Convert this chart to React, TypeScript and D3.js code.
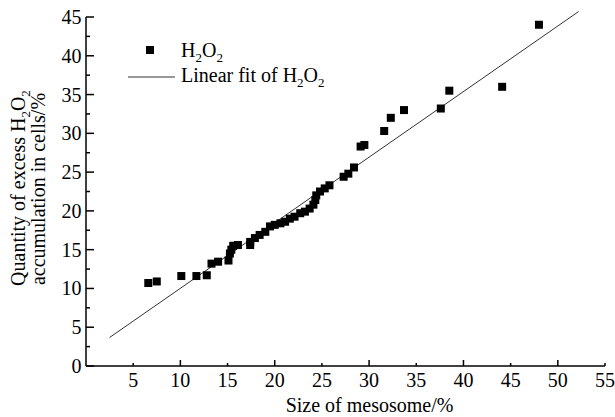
import React from "react";
import * as d3 from "d3";

const sizeValues = [6.6, 7.5, 10.1, 11.7, 12.8, 13.3, 14.0, 15.1, 15.25, 15.4, 15.6, 16.1, 17.4, 17.4, 17.9, 18.4, 19.0, 19.5, 20.0, 20.6, 21.1, 21.6, 22.1, 22.7, 23.2, 23.7, 24.1, 24.3, 24.4, 24.8, 25.3, 25.8, 27.3, 27.8, 28.4, 29.1, 29.5, 31.6, 32.3, 33.7, 37.6, 38.5, 44.1, 48.0];
const h2o2Values = [10.7, 10.9, 11.6, 11.6, 11.7, 13.2, 13.45, 13.6, 14.5, 15.0, 15.5, 15.6, 15.6, 16.0, 16.5, 16.9, 17.3, 18.0, 18.2, 18.4, 18.6, 19.0, 19.25, 19.7, 19.9, 20.3, 20.8, 21.4, 22.0, 22.5, 22.9, 23.3, 24.4, 24.8, 25.6, 28.3, 28.5, 30.3, 32.0, 33.0, 33.2, 35.5, 36.0, 44.0];

const fitSlope = 0.8456;
const fitIntercept = 1.56;
const fitRange = [2.5, 52.2];

const xTickLabels = [5, 10, 15, 20, 25, 30, 35, 40, 45, 50, 55];
const yTickLabels = [0, 5, 10, 15, 20, 25, 30, 35, 40, 45];

const FONT = "'Liberation Serif', 'Times New Roman', serif";

export default function App() {
  const x = d3.scaleLinear().domain([0, 55]).range([86, 605]);
  const y = d3.scaleLinear().domain([0, 45]).range([366, 17]);
  const line = d3
    .line<number>()
    .x((d) => x(d))
    .y((d) => y(fitSlope * d + fitIntercept));
  const xMinor = d3.range(5, 56, 10);
  const xMajor = d3.range(10, 51, 10);
  const yMinor = d3.range(2.5, 45, 5);
  const ms = 8;

  const sub = (t: string) => (
    <tspan fontSize={13} dy={5}>{t}</tspan>
  );
  const h2o2 = (
    <>
      <tspan>H</tspan>
      {sub("2")}
      <tspan dy={-5}>O</tspan>
      {sub("2")}
    </>
  );

  return (
    <svg
      width={615}
      height={417}
      style={{ position: "absolute", left: 0, top: 0, background: "#fff" }}
      fontFamily={FONT}
    >
      <rect width={615} height={417} fill="#fff" />
      {/* fit line */}
      <path d={line(fitRange) || ""} fill="none" stroke="#333" strokeWidth={1} />
      {/* points */}
      {sizeValues.map((v, i) => (
        <rect
          key={i}
          x={x(v) - ms / 2}
          y={y(h2o2Values[i]) - ms / 2}
          width={ms}
          height={ms}
          fill="#000"
        />
      ))}
      {/* axes */}
      <line x1={x(0)} x2={x(55)} y1={y(0)} y2={y(0)} stroke="#000" strokeWidth={1.5} />
      <line x1={x(0)} x2={x(0)} y1={y(0)} y2={y(45)} stroke="#000" strokeWidth={1.5} />
      {xMajor.map((t) => (
        <line key={"xm" + t} x1={x(t)} x2={x(t)} y1={y(0)} y2={y(0) - 6} stroke="#000" strokeWidth={1.5} />
      ))}
      {xMinor.map((t) => (
        <line key={"xn" + t} x1={x(t)} x2={x(t)} y1={y(0)} y2={y(0) - 3} stroke="#000" strokeWidth={1.5} />
      ))}
      {yTickLabels.map((t) => (
        <line key={"ym" + t} x1={x(0)} x2={x(0) + 8} y1={y(t)} y2={y(t)} stroke="#000" strokeWidth={1.5} />
      ))}
      {yMinor.map((t) => (
        <line key={"yn" + t} x1={x(0)} x2={x(0) + 4} y1={y(t)} y2={y(t)} stroke="#000" strokeWidth={1.5} />
      ))}
      {xTickLabels.map((t) => (
        <text key={"xl" + t} x={x(t)} y={387} textAnchor="middle" fontSize={20}>
          {t}
        </text>
      ))}
      {yTickLabels.map((t) => (
        <text key={"yl" + t} x={81.5} y={y(t) + 7} textAnchor="end" fontSize={20}>
          {t}
        </text>
      ))}
      {/* axis titles */}
      <text x={369.5} y={412} textAnchor="middle" fontSize={20}>
        Size of mesosome/%
      </text>
      <text transform="translate(25,188) rotate(-90)" textAnchor="middle" fontSize={20}>
        Quantity of excess {h2o2}
      </text>
      <text transform="translate(45,189) rotate(-90)" textAnchor="middle" fontSize={20}>
        accumulation in cells/%
      </text>
      {/* legend */}
      <rect x={150 - ms / 2} y={50 - ms / 2} width={ms} height={ms} fill="#000" />
      <text x={181} y={57} fontSize={20}>
        {h2o2}
      </text>
      <line x1={128} x2={175} y1={77} y2={77} stroke="#333" strokeWidth={1} />
      <text x={181} y={82} fontSize={20}>
        Linear fit of {h2o2}
      </text>
    </svg>
  );
}
